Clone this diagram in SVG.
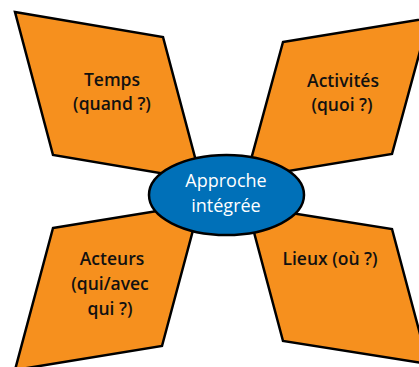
<svg xmlns="http://www.w3.org/2000/svg" width="419" height="367" viewBox="0 0 419 367">
<style>
.petal{fill:#F6901E;stroke:#000;stroke-width:2.5;stroke-linejoin:miter}
.lbl{font-family:"Open Sans","Liberation Sans",sans-serif;font-size:17.5px;font-weight:600;fill:#111;text-anchor:middle}
.center{fill:#0070B8;stroke:#000;stroke-width:2.5}
.clbl{font-family:"Open Sans","Liberation Sans",sans-serif;font-size:18px;font-weight:500;fill:#fff;text-anchor:middle}
</style>
<rect width="419" height="367" fill="#fff"/>
<g id="temps">
<polygon class="petal" points="15,12 163,37 201,180 53,155"/>
<text class="lbl" x="112" y="86">Temps</text>
<text class="lbl" x="112" y="110">(quand ?)</text>
</g>
<g id="activites">
<polygon class="petal" points="283,42 429,18 392,154 246,178"/>
<text class="lbl" x="343" y="87">Activités</text>
<text class="lbl" x="342" y="111">(quoi ?)</text>
</g>
<g id="acteurs">
<polygon class="petal" points="53,228 200,204 162,346 15,370"/>
<text class="lbl" x="112" y="265">Acteurs</text>
<text class="lbl" x="110" y="290">(qui/avec</text>
<text class="lbl" x="110" y="315">qui ?)</text>
</g>
<g id="lieux">
<polygon class="petal" points="247,206 392,229 428,364 283,341"/>
<text class="lbl" x="330" y="265">Lieux (où ?)</text>
</g>
<g id="connectors"/>
<g id="approche">
<ellipse class="center" cx="226.5" cy="195" rx="77.5" ry="40"/>
<text class="clbl" x="226" y="187">Approche</text>
<text class="clbl" x="226" y="212">intégrée</text>
</g>
</svg>
